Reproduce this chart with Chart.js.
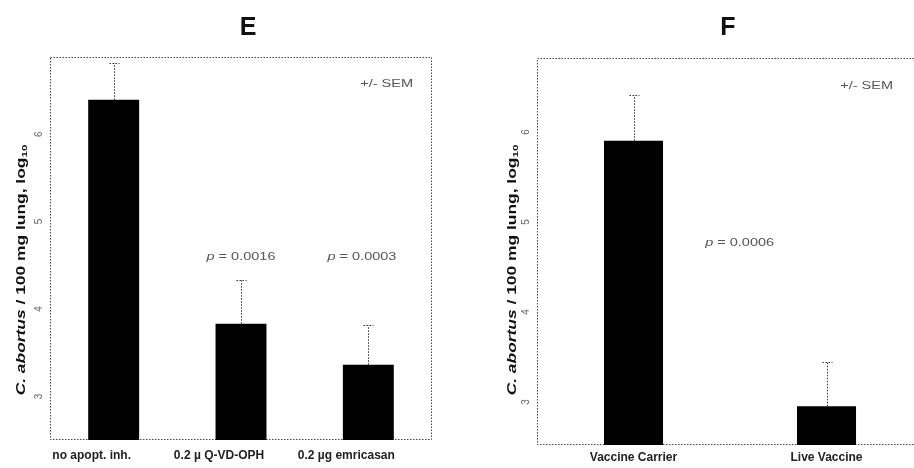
<!DOCTYPE html>
<html>
<head>
<meta charset="utf-8">
<script src="https://cdn.jsdelivr.net/npm/chart.js@4.4.1/dist/chart.umd.min.js"></script>
<style>
  html, body { margin: 0; padding: 0; background: #fff; width: 914px; height: 468px; overflow: hidden; }
  .panel { position: absolute; top: 0; height: 468px; }
  #panel-e { left: 0; width: 457px; }
  #panel-f { left: 457px; width: 470px; }
</style>
</head>
<body>
<div class="panel" id="panel-e"><canvas id="chart-e"></canvas></div>
<div class="panel" id="panel-f"><canvas id="chart-f"></canvas></div>
<script>
'use strict';

//************ DATA - panel E ************
let groupsE = ['no apopt. inh.', '0.2 µ Q-VD-OPH', '0.2 µg emricasan'];
let meansE = [6.36, 3.80, 3.33];
let semE = [0.42, 0.50, 0.45];
let pValuesE = ['0.0016', '0.0003'];
let ticksE = [3, 4, 5, 6];

//************ DATA - panel F ************
let groupsF = ['Vaccine Carrier', 'Live Vaccine'];
let meansF = [5.87, 2.92];
let semF = [0.51, 0.49];
let pValuesF = ['0.0006'];
let ticksF = [3, 4, 5, 6];

const FONT = '"Liberation Sans", Arial, sans-serif';
const STRETCH = 1.45; // the source figure text is drawn wide

//************ PLUGINS ************
// dotted frame round the plot area
const framePlugin = {
  id: 'frame',
  beforeDatasetsDraw(chart) {
    const { ctx, chartArea: a } = chart;
    ctx.save();
    ctx.strokeStyle = '#444';
    ctx.lineWidth = 1;
    ctx.setLineDash([1.5, 1.5]);
    ctx.strokeRect(a.left + 0.5, a.top + 0.5, a.right - a.left - 1, a.bottom - a.top - 1);
    ctx.restore();
  }
};

// SEM whiskers (up only)
const errorBarPlugin = {
  id: 'errorBars',
  afterDatasetsDraw(chart, args, opts) {
    const ctx = chart.ctx;
    const y = chart.scales.y;
    const values = chart.data.datasets[0].data;
    ctx.save();
    ctx.strokeStyle = '#333';
    ctx.lineWidth = 1;
    ctx.setLineDash([1.5, 1.5]);
    chart.getDatasetMeta(0).data.forEach((bar, i) => {
      const top = Math.round(y.getPixelForValue(values[i] + opts.errors[i])) + 0.5;
      const x = Math.round(bar.x) + 0.5;
      ctx.beginPath();
      ctx.moveTo(x, bar.y);
      ctx.lineTo(x, top);
      ctx.moveTo(x - 5, top);
      ctx.lineTo(x + 5, top);
      ctx.stroke();
    });
    ctx.restore();
  }
};

// draws a run of text pieces stretched sideways, centred or right aligned at (x, y)
function drawPieces(ctx, pieces, x, y, align) {
  let total = 0;
  pieces.forEach(p => { ctx.font = p.f; p.w = ctx.measureText(p.t).width; total += p.w; });
  ctx.save();
  ctx.translate(x, y);
  ctx.scale(STRETCH, 1);
  ctx.textAlign = 'left';
  ctx.textBaseline = 'middle';
  let cx = align === 'right' ? -total : -total / 2;
  pieces.forEach(p => {
    ctx.font = p.f;
    ctx.fillText(p.t, cx, p.dy || 0);
    cx += p.w;
  });
  ctx.restore();
}

// panel letter, y title, +/- SEM and p values
const textPlugin = {
  id: 'texts',
  afterDraw(chart, args, opts) {
    const { ctx, chartArea: a } = chart;
    ctx.save();

    // panel letter
    ctx.fillStyle = '#111';
    ctx.font = 'bold 25px "Liberation Sans Narrow", ' + FONT;
    ctx.textAlign = 'center';
    ctx.textBaseline = 'middle';
    ctx.fillText(opts.letter, opts.letterX, opts.letterY);

    // y axis title, mixed italic, rotated
    ctx.save();
    ctx.translate(opts.yTitleX, opts.yTitleY);
    ctx.rotate(-Math.PI / 2);
    drawPieces(ctx, [
      { t: 'C. abortus', f: 'italic bold 12px ' + FONT },
      { t: ' / 100 mg lung, log', f: 'bold 12px ' + FONT },
      { t: '10', f: 'bold 8px ' + FONT, dy: 3 }
    ], 0, 0, 'center');
    ctx.restore();

    // +/- SEM
    ctx.fillStyle = '#555';
    drawPieces(ctx, [{ t: '+/- SEM', f: '10px ' + FONT }], a.right + opts.semDx, a.top + opts.semDy, 'right');

    // p values
    opts.pLabels.forEach(p => {
      const x = chart.scales.x.getPixelForValue(p.at);
      const y = chart.scales.y.getPixelForValue(p.level);
      drawPieces(ctx, [
        { t: 'p', f: 'italic 10px ' + FONT },
        { t: ' = ' + p.text, f: '10px ' + FONT }
      ], x, y, 'center');
    });

    ctx.restore();
  }
};

//************ CHART BUILDER ************
function buildChart(canvasId, cfg) {
  let ctx = document.getElementById(canvasId);
  return new Chart(ctx, {
    type: 'bar',
    data: {
      labels: cfg.labels,
      datasets: [{
        data: cfg.values,
        backgroundColor: '#000',
        borderWidth: 0,
        barPercentage: cfg.barPct,
        categoryPercentage: 1
      }]
    },
    options: {
      responsive: true,
      maintainAspectRatio: false,
      animation: false,
      layout: { padding: cfg.padding },
      plugins: {
        legend: { display: false },
        tooltip: { enabled: false },
        errorBars: { errors: cfg.errors },
        texts: cfg.texts
      },
      scales: {
        x: {
          grid: { display: false, drawTicks: false },
          border: { display: false },
          ticks: {
            padding: cfg.xPad,
            color: '#222',
            autoSkip: false,
            labelOffset: cfg.labelOffset,
            font: { family: FONT, size: 12, weight: 'bold' },
            maxRotation: 0
          },
          afterFit(scale) { scale.height = cfg.xHeight; }
        },
        y: {
          min: cfg.min,
          max: cfg.max,
          grid: { display: false, drawTicks: false },
          border: { display: false },
          ticks: {
            padding: 11,
            color: '#666',
            minRotation: 90,
            maxRotation: 90,
            font: { family: FONT, size: 10 }
          },
          afterBuildTicks(scale) { scale.ticks = cfg.ticks.map(v => ({ value: v })); },
          afterFit(scale) { scale.width = cfg.yWidth; }
        }
      }
    },
    plugins: [framePlugin, errorBarPlugin, textPlugin]
  });
}

//************ EXECUTABLE CODE ************
buildChart('chart-e', {
  labels: groupsE,
  values: meansE,
  errors: semE,
  ticks: ticksE,
  min: 2.47,
  max: 6.85,
  barPct: 0.4,
  padding: { top: 57, right: 25, left: 0, bottom: 0 },
  xPad: 8,
  xHeight: 28,
  yWidth: 50,
  labelOffset: -22,
  texts: {
    letter: 'E', letterX: 248, letterY: 28,
    yTitleX: 22, yTitleY: 270,
    semDx: -19, semDy: 27,
    pLabels: [
      { at: 1, level: 4.56, text: pValuesE[0] },
      { at: 1.95, level: 4.56, text: pValuesE[1] }
    ]
  }
});

buildChart('chart-f', {
  labels: groupsF,
  values: meansF,
  errors: semF,
  ticks: ticksF,
  min: 2.49,
  max: 6.79,
  barPct: 0.306,
  padding: { top: 58, right: 4, left: 0, bottom: 0 },
  xPad: 5,
  xHeight: 23,
  yWidth: 80,
  labelOffset: 0,
  texts: {
    letter: 'F', letterX: 271, letterY: 28,
    yTitleX: 56, yTitleY: 270,
    semDx: -30, semDy: 28,
    pLabels: [
      { at: 0.55, level: 4.73, text: pValuesF[0] }
    ]
  }
});
</script>
</body>
</html>
